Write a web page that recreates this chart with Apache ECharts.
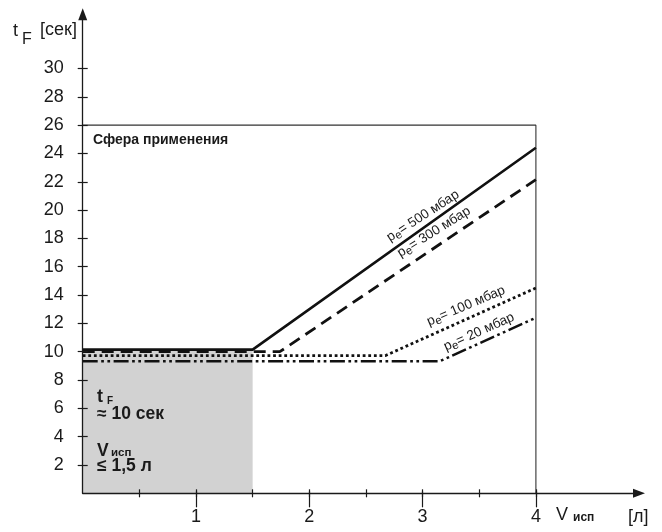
<!DOCTYPE html>
<html><head><meta charset="utf-8">
<script src="https://cdn.jsdelivr.net/npm/echarts@6/dist/echarts.min.js"></script>
<style>html,body{margin:0;padding:0;background:#fff}#c{width:662px;height:532px}</style>
</head><body><div id="c"></div>
<script>
// ---- data ----
const volumes500 = [0, 1.5, 4];
const times500   = [10.15, 10.15, 24.4];
const volumes300 = [0, 1.74, 4];
const times300   = [10.0, 10.0, 22.15];
const volumes100 = [0, 2.67, 4];
const times100   = [9.72, 9.72, 14.5];
const volumes20  = [0, 3.15, 4];
const times20    = [9.32, 9.32, 12.4];
const boxVolumes = [0, 4, 4];
const boxTimes   = [26, 26, 0];
const zoneVolumes = [0, 1.5];
const zoneTimes   = [0, 10.15];
const pressureLabels = ['= 500 мбар', '= 300 мбар', '= 100 мбар', '= 20 мбар'];
const labelVolumes = [3.003, 3.10, 3.383, 3.498];
const labelTimes   = [19.58, 18.45, 13.23, 11.39];
const labelAngles  = [33, 32, 23, 24];
const xTickValues = [1, 2, 3, 4];

// ---- layout ----
const X0 = 82.7, Y0 = 493.3, UX = 113.3, UY = 14.16;
const INK = '#1a1a1a';
const FONT = '"Liberation Sans", Arial, sans-serif';

function pairs(xs, ys) { return xs.map((x, i) => [x, ys[i]]); }
const hidden = { show: false };
function dummyX(g) { return { gridIndex: g, type: 'value', min: 0, max: 1, show: false }; }
function dummyY(g) { return { gridIndex: g, type: 'value', min: 0, max: 1, show: false }; }

const lineSeries = (name, xs, ys, width, type) => ({
  type: 'line', name, xAxisIndex: 0, yAxisIndex: 0, data: pairs(xs, ys),
  symbol: 'none', silent: true, z: 3,
  lineStyle: { color: '#111', width, type, cap: 'butt' }
});

const chart = echarts.init(document.getElementById('c'), null, { renderer: 'canvas' });
const option = {
  animation: false,
  backgroundColor: '#fff',
  textStyle: { fontFamily: FONT },
  grid: [
    { left: X0, top: Y0 - 30 * UY, width: 4 * UX, height: 30 * UY },          // plot
    { left: X0, top: 14.3, width: 639 - X0, height: Y0 - 14.3 },               // arrows
    { left: X0, top: Y0 - 30 * UY, width: 10, height: 28 * UY },               // y ticks
    { left: X0 + UX, top: Y0 - 10, width: 3 * UX, height: 10 },                // x major
    { left: X0 + 0.5 * UX, top: Y0 - 10, width: 3.5 * UX, height: 10 }         // x minor
  ],
  xAxis: [
    { gridIndex: 0, type: 'value', min: 0, max: 4, show: false },
    { gridIndex: 1, type: 'value', min: 0, max: 1, position: 'bottom', z: 6,
      axisLine: { show: true, symbol: ['none', 'triangle'], symbolSize: [9, 12], lineStyle: { color: INK, width: 1.3 } },
      axisTick: hidden, axisLabel: hidden, splitLine: hidden },
    dummyX(2),
    { gridIndex: 3, type: 'value', min: 1, max: 4, interval: 1, position: 'bottom', offset: -8, z: 6,
      axisLine: hidden, splitLine: hidden,
      axisTick: { show: true, length: 16, lineStyle: { color: INK, width: 1.2 } },
      axisLabel: { show: true, margin: 23, fontSize: 18, color: INK, fontFamily: FONT,
        formatter: v => xTickValues.includes(v) ? String(v) : '' } },
    { gridIndex: 4, type: 'value', min: 0.5, max: 4, interval: 0.5, position: 'bottom', offset: -4, z: 6,
      axisLine: hidden, splitLine: hidden, axisLabel: hidden,
      axisTick: { show: true, length: 8, lineStyle: { color: INK, width: 1.2 } } }
  ],
  yAxis: [
    { gridIndex: 0, type: 'value', min: 0, max: 30, show: false },
    { gridIndex: 1, type: 'value', min: 0, max: 1, position: 'left', z: 6,
      axisLine: { show: true, symbol: ['none', 'triangle'], symbolSize: [9, 12], lineStyle: { color: INK, width: 1.3 } },
      axisTick: hidden, axisLabel: hidden, splitLine: hidden },
    { gridIndex: 2, type: 'value', min: 2, max: 30, interval: 2, position: 'left', offset: -5, z: 6,
      axisLine: hidden, splitLine: hidden,
      axisTick: { show: true, length: 10, lineStyle: { color: INK, width: 1.2 } },
      axisLabel: { show: true, margin: 24, fontSize: 18, color: INK, fontFamily: FONT, align: 'right' } },
    dummyY(3),
    dummyY(4)
  ],
  series: [
    Object.assign(lineSeries('500', volumes500, times500, 2.6, 'solid'), {
      markArea: { silent: true, itemStyle: { color: '#d2d2d2' },
        data: [[{ coord: [zoneVolumes[0], zoneTimes[0]] }, { coord: [zoneVolumes[1], zoneTimes[1]] }]] }
    }),
    lineSeries('300', volumes300, times300, 2.8, [12, 7]),
    lineSeries('100', volumes100, times100, 2.8, [2.8, 2.8]),
    lineSeries('20', volumes20, times20, 2.5, [15, 3.5, 2.7, 3.5, 2.7, 3.5]),
    { type: 'line', name: 'box', xAxisIndex: 0, yAxisIndex: 0, data: pairs(boxVolumes, boxTimes),
      symbol: 'none', silent: true, z: 2, lineStyle: { color: '#333', width: 1.1 } }
  ]
};
chart.setOption(option);

// ---- texts ----
function txt(x, y, text, size, bold, extra) {
  return Object.assign({ type: 'text', x, y, silent: true, z: 50,
    style: { text, fontSize: size, fontWeight: bold ? 'bold' : 'normal', fontFamily: FONT,
      fill: INK, align: 'left', verticalAlign: 'middle' } }, extra || {});
}
const graphics = [
  // y axis title
  txt(13, 31, 't', 18, false), txt(22, 40, 'F', 16, false), txt(40, 30.5, '[сек]', 18, false),
  // x axis title
  txt(556, 515.5, 'V', 18, false), txt(573, 518, 'исп', 12, true), txt(628, 516.7, '[л]', 18, false),
  // area title
  txt(93, 140, 'Сфера применения', 14, true),
  // zone annotation
  txt(97, 397, 't', 18, true), txt(107, 401, 'F', 10, true),
  txt(97, 414, '≈ 10 сек', 17.5, true),
  txt(97, 451, 'V', 17.5, true), txt(111, 453, 'исп', 11.5, true),
  txt(97, 466, '≤ 1,5 л', 17.5, true)
];
pressureLabels.forEach((lab, i) => {
  const p = chart.convertToPixel({ xAxisIndex: 0, yAxisIndex: 0 }, [labelVolumes[i], labelTimes[i]]);
  graphics.push({
    type: 'text', x: p[0], y: p[1], rotation: labelAngles[i] * Math.PI / 180, silent: true, z: 50,
    style: {
      text: '{p|p}{e|e}{p|' + lab + '}', align: 'center', verticalAlign: 'middle',
      rich: {
        p: { fontSize: 13.5, fontFamily: FONT, fill: INK, lineHeight: 18, verticalAlign: 'middle' },
        e: { fontSize: 11.5, fontFamily: FONT, fill: INK, lineHeight: 18, verticalAlign: 'bottom', padding: [6, 0, 0, 0] }
      }
    }
  });
});
chart.setOption({ graphic: graphics });
</script></body></html>
